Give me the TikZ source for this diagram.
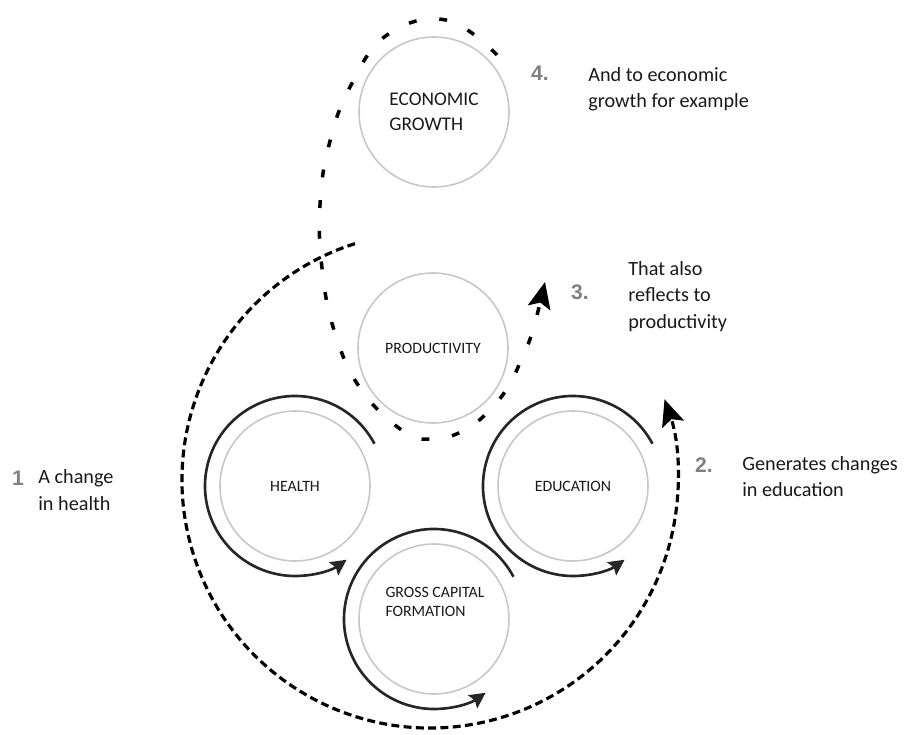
\documentclass[tikz,border=0pt]{standalone}
\usepackage{fontspec}
\setmainfont{Carlito}
\newfontfamily\stepfont{Liberation Sans}
\usetikzlibrary{arrows.meta}

\begin{document}
\begin{tikzpicture}[
        factor/.style={circle, draw=black!22, line width=0.9pt, minimum size=3cm, inner sep=0pt,
            text=black!90, align=left, font=\fontsize{9}{10.5}\selectfont},
        cycle/.style={line width=1.5pt, black!85, -{Stealth[length=9pt, width=9pt, inset=1.5pt]}},
        bigloop/.style={line width=1.8pt, dash pattern=on 4.5pt off 2.5pt,
            -{Stealth[length=15pt, width=13pt, inset=3pt]}},
        sideloop/.style={line width=2pt, dash pattern=on 4.5pt off 13pt,
            -{Stealth[length=15pt, width=13pt, inset=3pt]}},
        stepnum/.style={font=\stepfont\bfseries\fontsize{12}{14}\selectfont, text=black!50},
        note/.style={anchor=west, align=left, inner sep=0pt, text=black!90,
            font=\fontsize{11.5}{15}\selectfont},
    ]

    \useasboundingbox (0, 0) rectangle (18.12, 14.68);

    \node[factor, font=\fontsize{11}{14}\selectfont] (growth) at (8.68, 12.44) {ECONOMIC\\GROWTH};
    \node[factor] (productivity) at (8.66, 7.72) {PRODUCTIVITY};
    \node[factor] (health) at (5.90, 4.96) {HEALTH};
    \node[factor] (education) at (11.46, 4.96) {EDUCATION};
    \node[factor] (capital) at (8.68, 2.30) {};
    \node[align=left, text=black!90, font=\fontsize{9}{10.5}\selectfont] (capitaltext)
        at (8.70, 2.64) {GROSS CAPITAL\\FORMATION};

    \foreach \f in {health, education, capital}
        \draw[cycle] (\f.center) ++(28:1.8) arc[start angle=28, end angle=305, radius=1.8];

    \coordinate (hub) at (8.60, 5.08);
    \draw[bigloop] (hub) ++(107.6:4.96) arc[start angle=107.6, end angle=379, radius=4.96];

    \draw[sideloop] plot[smooth, tension=0.7] coordinates {
        (9.94, 13.58) (8.92, 14.28) (7.74, 13.98) (7.00, 12.94) (6.58, 11.78)
        (6.40, 10.58) (6.44, 9.32) (6.68, 8.08) (7.20, 6.92) (8.06, 6.06)
        (8.66, 5.90) (9.26, 6.06) (9.76, 6.44) (10.16, 6.94) (10.44, 7.52)
        (10.66, 8.08) (10.90, 9.04)};

    \node[stepnum] (step1) at (0.36, 5.12) {1};
    \node[note] (note1) at (0.76, 4.88) {A change\\in health};
    \node[stepnum] (step2) at (14.08, 5.38) {2.};
    \node[note] (note2) at (14.84, 5.15) {Generates changes\\in education};
    \node[stepnum] (step3) at (11.60, 8.84) {3.};
    \node[note] (note3) at (12.56, 8.75) {That also\\reflects to\\productivity};
    \node[stepnum] (step4) at (10.80, 13.22) {4.};
    \node[note] (note4) at (11.76, 12.89) {And to economic\\growth for example};
\end{tikzpicture}
\end{document}
